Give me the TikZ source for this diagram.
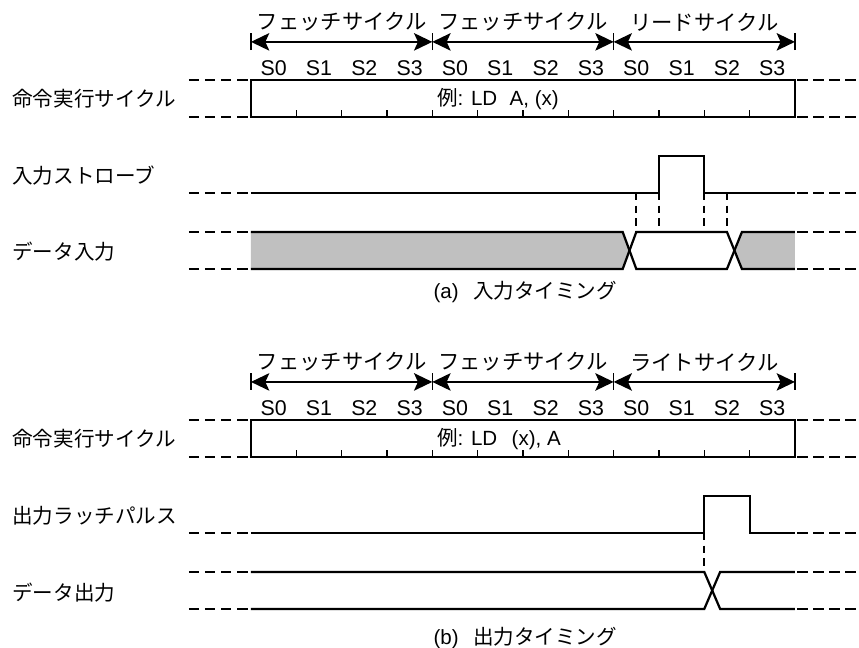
\documentclass[tikz,border=0pt]{standalone}
\usepackage{fontspec}
\setmainfont{Liberation Sans}
\newfontfamily\jp{Noto Sans CJK JP}
\usetikzlibrary{arrows.meta}
\definecolor{busg}{HTML}{C0C0C0}
\tikzset{
  sig/.style={line width=1.4pt},
  stub/.style={line width=1.3pt, dash pattern=on 6.5pt off 3.6pt},
  guide/.style={line width=1pt, dash pattern=on 4.5pt off 3.5pt},
  bar/.style={line width=0.9pt},
  span/.style={line width=0.9pt,
    {Stealth[length=11.5pt,width=11pt,inset=2.5pt]}-{Stealth[length=11.5pt,width=11pt,inset=2.5pt]}},
  lab/.style={font=\fontsize{12.9}{15}\selectfont, inner sep=0pt},
  cyc/.style={font=\fontsize{13.4}{15}\selectfont, inner sep=0pt},
  stt/.style={font=\fontsize{13.4}{15}\selectfont, inner sep=0pt},
}

\begin{document}
\begin{tikzpicture}[x=1cm,y=1cm]
  \useasboundingbox (-5.537,0) rectangle (13.413,14.294);

  % (a) input timing
  \node[cyc] (fetchA1) at (2,13.81) {\jp フェッチサイクル};
  \node[cyc] (fetchA2) at (6,13.81) {\jp フェッチサイクル};
  \node[cyc] (readA) at (10,13.81) {\jp リードサイクル};
  \foreach \x in {0,4,8,12} {
    \coordinate (cA\x) at (\x,13.37);
    \draw[bar] (\x,13.19) -- (\x,13.57);
  }
  \draw[span] (cA0) -- (cA4);
  \draw[span] (cA4) -- (cA8);
  \draw[span] (cA8) -- (cA12);
  \foreach \i in {0,...,11} {
    \pgfmathtruncatemacro\s{mod(\i,4)}
    \node[stt] (sA\i) at (\i+0.5,12.79) {S\s};
  }

  \node[lab,anchor=west] (instA) at (-5.27,12.11) {\jp 命令実行サイクル};
  \draw[line width=1.3pt] (0,11.713) rectangle (12,12.529);
  \foreach \x in {1,...,11} \draw[bar] (\x,11.713) -- (\x,11.868);
  \node[lab,anchor=west] (opA) at (4.1,12.11) {{\jp 例}: LD\hspace{0.6em}A, (x)};
  \draw[stub] (-1.37,12.529) -- (-0.05,12.529);
  \draw[stub] (-1.37,11.713) -- (-0.05,11.713);
  \draw[stub] (12.05,12.529) -- (13.413,12.529);
  \draw[stub] (12.05,11.713) -- (13.413,11.713);

  \node[lab,anchor=west] (strobeA) at (-5.27,10.41) {\jp 入力ストローブ};
  \draw[sig] (0,10.037) -- (9,10.037) -- (9,10.853) -- (10,10.853) -- (10,10.037) -- (12,10.037);
  \draw[stub] (-1.37,10.037) -- (-0.05,10.037);
  \draw[stub] (12.05,10.037) -- (13.413,10.037);
  \foreach \x in {8.5,9,10,10.5} \draw[guide] (\x,10.037) -- (\x,9.176);

  \node[lab,anchor=west] (dataA) at (-5.27,8.735) {\jp データ入力};
  \fill[busg] (0,9.176) -- (8.2,9.176) -- (8.35,8.768) -- (8.2,8.36) -- (0,8.36) -- cycle;
  \fill[busg] (12,9.176) -- (10.83,9.176) -- (10.665,8.768) -- (10.83,8.36) -- (12,8.36) -- cycle;
  \draw[sig] (0,9.176) -- (8.2,9.176) -- (8.5,8.36) -- (10.5,8.36) -- (10.83,9.176) -- (12,9.176);
  \draw[sig] (0,8.36) -- (8.2,8.36) -- (8.5,9.176) -- (10.5,9.176) -- (10.83,8.36) -- (12,8.36);
  \draw[stub] (-1.37,9.176) -- (-0.05,9.176);
  \draw[stub] (-1.37,8.36) -- (-0.05,8.36);
  \draw[stub] (12.05,9.176) -- (13.413,9.176);
  \draw[stub] (12.05,8.36) -- (13.413,8.36);

  \node[lab,anchor=west] (capA) at (4.02,7.85) {(a)\hspace{0.7em}{\jp 入力タイミング}};

  % (b) output timing
  \node[cyc] (fetchB1) at (2,6.31) {\jp フェッチサイクル};
  \node[cyc] (fetchB2) at (6,6.31) {\jp フェッチサイクル};
  \node[cyc] (writeB) at (10,6.31) {\jp ライトサイクル};
  \foreach \x in {0,4,8,12} {
    \coordinate (cB\x) at (\x,5.868);
    \draw[bar] (\x,5.691) -- (\x,6.066);
  }
  \draw[span] (cB0) -- (cB4);
  \draw[span] (cB4) -- (cB8);
  \draw[span] (cB8) -- (cB12);
  \foreach \i in {0,...,11} {
    \pgfmathtruncatemacro\s{mod(\i,4)}
    \node[stt] (sB\i) at (\i+0.5,5.29) {S\s};
  }

  \node[lab,anchor=west] (instB) at (-5.27,4.61) {\jp 命令実行サイクル};
  \draw[line width=1.3pt] (0,4.213) rectangle (12,5.029);
  \foreach \x in {1,...,11} \draw[bar] (\x,4.213) -- (\x,4.368);
  \node[lab,anchor=west] (opB) at (4.1,4.61) {{\jp 例}: LD\hspace{0.7em}(x), A};
  \draw[stub] (-1.37,5.029) -- (-0.05,5.029);
  \draw[stub] (-1.37,4.213) -- (-0.05,4.213);
  \draw[stub] (12.05,5.029) -- (13.413,5.029);
  \draw[stub] (12.05,4.213) -- (13.413,4.213);

  \node[lab,anchor=west] (latchB) at (-5.27,2.91) {\jp 出力ラッチパルス};
  \draw[sig] (0,2.537) -- (10,2.537) -- (10,3.353) -- (11,3.353) -- (11,2.537) -- (12,2.537);
  \draw[stub] (-1.37,2.537) -- (-0.05,2.537);
  \draw[stub] (12.05,2.537) -- (13.413,2.537);
  \draw[guide] (10,2.537) -- (10,1.676);

  \node[lab,anchor=west] (dataB) at (-5.27,1.22) {\jp データ出力};
  \draw[sig] (0,1.676) -- (10,1.676) -- (10.35,0.86) -- (12,0.86);
  \draw[sig] (0,0.86) -- (10,0.86) -- (10.35,1.676) -- (12,1.676);
  \draw[stub] (-1.37,1.676) -- (-0.05,1.676);
  \draw[stub] (-1.37,0.86) -- (-0.05,0.86);
  \draw[stub] (12.05,1.676) -- (13.413,1.676);
  \draw[stub] (12.05,0.86) -- (13.413,0.86);

  \node[lab,anchor=west] (capB) at (4.02,0.22) {(b)\hspace{0.7em}{\jp 出力タイミング}};
\end{tikzpicture}
\end{document}
